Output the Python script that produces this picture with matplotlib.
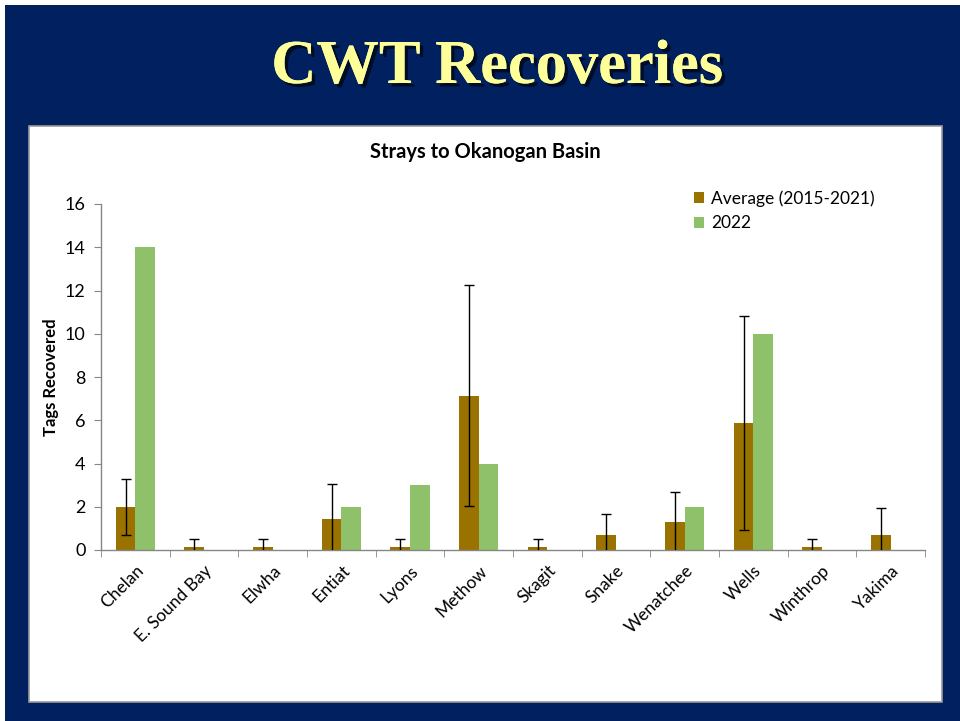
"""
CWT recoveries slide: strays to Okanogan Basin, average (2015-2021) vs 2022.
"""
import numpy as np
import matplotlib
matplotlib.use("Agg")
import matplotlib.pyplot as plt
import matplotlib.patheffects as pe
from matplotlib.patches import Rectangle

SITES = ["Chelan", "E. Sound Bay", "Elwha", "Entiat", "Lyons", "Methow",
         "Skagit", "Snake", "Wenatchee", "Wells", "Winthrop", "Yakima"]
AVG_2015_2021 = [2.00, 0.14, 0.14, 1.43, 0.14, 7.14, 0.14, 0.71, 1.29, 5.86, 0.14, 0.71]
AVG_ERR = [1.29, 0.38, 0.38, 1.62, 0.38, 5.11, 0.38, 0.95, 1.38, 4.95, 0.38, 1.25]
Y2022 = [14, 0, 0, 2, 3, 4, 0, 0, 2, 10, 0, 0]
Y_TICKS = [0, 2, 4, 6, 8, 10, 12, 14, 16]

NAVY = "#002060"
BROWN = "#9A7200"
GREEN = "#8EC16A"
AXIS_GRAY = "#868686"
FONT = "Lato"


def main():
    W, H = 960, 721
    fig = plt.figure(figsize=(W / 100, H / 100), dpi=100)
    fig.patch.set_facecolor("white")

    # slide background + white chart panel (pixel coords converted to fig fractions)
    fig.patches.append(Rectangle((5 / W, 0), 1 - 5 / W, 1 - 5 / H, transform=fig.transFigure,
                                 facecolor=NAVY, edgecolor="none", zorder=-3))
    fig.patches.append(Rectangle((29 / W, 1 - 702 / H), (942 - 29) / W, (702 - 126) / H,
                                 transform=fig.transFigure, facecolor="white",
                                 edgecolor="#9a9a9a", linewidth=1.2, zorder=-2))

    fig.text(0.518, 1 - 68 / H, "CWT Recoveries", ha="center", va="center",
             fontsize=45, fontweight="bold", family="Liberation Serif", color="#FFFF99",
             path_effects=[pe.withSimplePatchShadow(offset=(2.5, -2.5), shadow_rgbFace="black",
                                                    alpha=0.6), pe.Normal()])

    ax = fig.add_axes([101 / W, 1 - 550 / H, (925 - 101) / W, (550 - 204) / H])
    ax.set_zorder(2)
    ax.patch.set_alpha(0)
    x = np.arange(len(SITES))
    w = 0.285
    ax.bar(x - w / 2, AVG_2015_2021, w, color=BROWN, label="Average (2015-2021)", zorder=2)
    ax.bar(x + w / 2, Y2022, w, color=GREEN, label="2022", zorder=2)
    ax.errorbar(x - w / 2, AVG_2015_2021, yerr=AVG_ERR, fmt="none", ecolor="black",
                elinewidth=1.0, capsize=3.5, capthick=1.0, zorder=3)

    ax.set_xlim(-0.5, len(SITES) - 0.5)
    ax.set_ylim(0, 16)
    ax.set_yticks(Y_TICKS)
    ax.set_xticks(x)
    ax.set_xticklabels(SITES, rotation=45, ha="right", rotation_mode="anchor",
                       fontsize=12.5, family=FONT)
    ax.set_xticks(np.arange(len(SITES) + 1) - 0.5, minor=True)
    ax.tick_params(axis="x", which="major", length=0, pad=9)
    ax.tick_params(axis="x", which="minor", length=5, color=AXIS_GRAY, direction="out")
    ax.tick_params(axis="y", length=5, color=AXIS_GRAY, direction="out", labelsize=13, pad=6)
    for lbl in ax.get_yticklabels():
        lbl.set_family(FONT)
    for side in ("top", "right"):
        ax.spines[side].set_visible(False)
    for side in ("left", "bottom"):
        ax.spines[side].set_color(AXIS_GRAY)
        ax.spines[side].set_linewidth(1.0)

    ax.set_ylabel("Tags Recovered", fontsize=12, fontweight="bold", family=FONT, labelpad=4)
    fig.text(485 / W, 1 - 152 / H, "Strays to Okanogan Basin", ha="center", va="center",
             fontsize=14.5, fontweight="bold", family=FONT)

    ax.legend(loc="upper left", bbox_to_anchor=(694 / W, 1 - 190 / H),
              bbox_transform=fig.transFigure, frameon=False,
              prop={"family": FONT, "size": 12.5}, handlelength=0.6, handleheight=0.6,
              handletextpad=0.4, labelspacing=0.5, borderaxespad=0, borderpad=0)

    fig.savefig("out.png", dpi=100, facecolor=fig.get_facecolor())


if __name__ == "__main__":
    main()
